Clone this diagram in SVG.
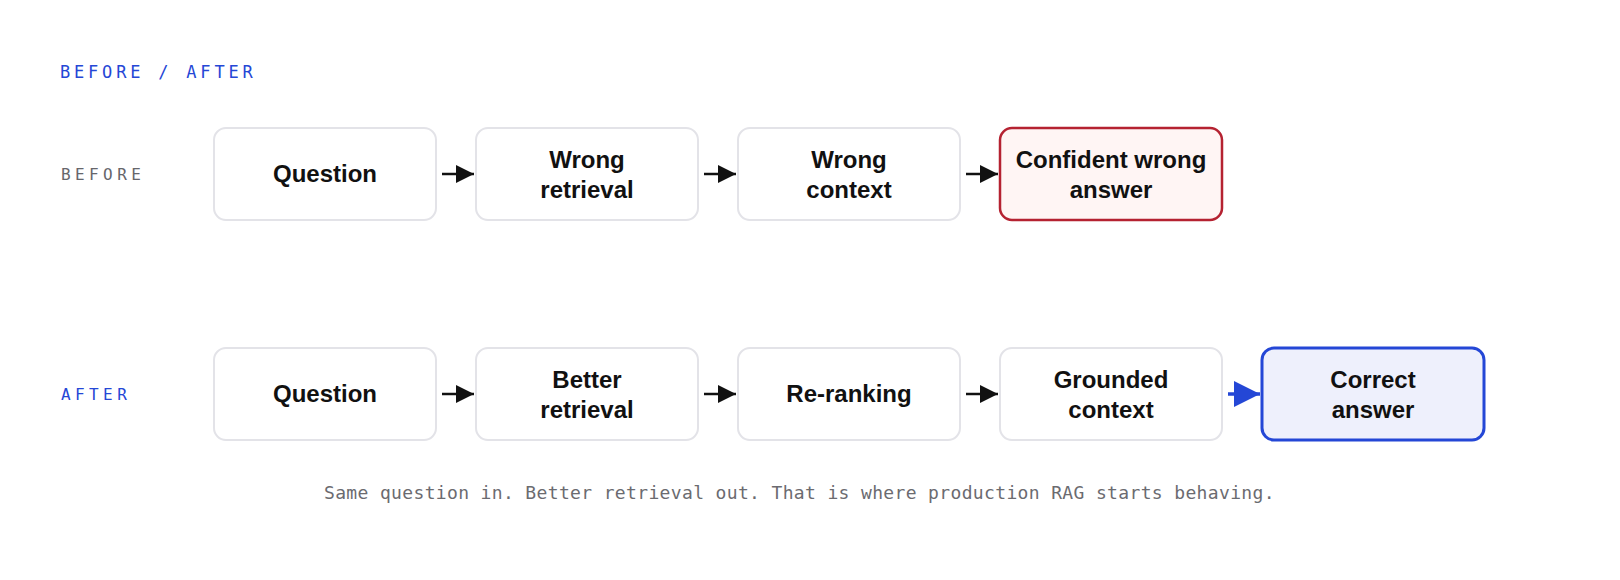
<svg xmlns="http://www.w3.org/2000/svg" width="1620" height="580" viewBox="0 0 1620 580">
<style>
.bg{fill:#ffffff}
.node{fill:#ffffff;stroke:#e3e3e8;stroke-width:2}
.bad{fill:#fff5f4;stroke:#b52231;stroke-width:2.5}
.good{fill:#eef0fc;stroke:#2447d6;stroke-width:3}
.t{font-family:"Liberation Sans",Arial,sans-serif;font-weight:bold;font-size:24px;fill:#111111;text-anchor:middle}
.hdr{font-family:"DejaVu Sans Mono",monospace;font-size:17px;letter-spacing:3.8px;fill:#2547d6}
.lbl{font-family:"DejaVu Sans Mono",monospace;font-size:16px;letter-spacing:4.4px}
.cap{font-family:"DejaVu Sans Mono",monospace;font-size:18px;letter-spacing:0.35px;fill:#6b6b70}
.arr{stroke:#111111;stroke-width:2.5;fill:none}
.arrb{stroke:#2447d6;stroke-width:3.5;fill:none}
</style>
<defs>
<marker id="ah" viewBox="0 0 18 18" refX="18" refY="9" markerWidth="18" markerHeight="18" markerUnits="userSpaceOnUse" orient="auto"><path d="M0,0 L18,9 L0,18 z" fill="#111111"/></marker>
<marker id="ahb" viewBox="0 0 26 26" refX="26" refY="13" markerWidth="26" markerHeight="26" markerUnits="userSpaceOnUse" orient="auto"><path d="M0,0 L26,13 L0,26 z" fill="#2447d6"/></marker>
</defs>
<rect class="bg" x="0" y="0" width="1620" height="580"/>
<text class="hdr" x="60" y="78">BEFORE / AFTER</text>
<text class="lbl" x="61" y="180" fill="#66666b">BEFORE</text>
<text class="lbl" x="61" y="400" fill="#2547d6">AFTER</text>

<g id="b1"><rect class="node" x="214" y="128" width="222" height="92" rx="12"/><text class="t" x="325" y="182">Question</text></g>
<g id="b2"><rect class="node" x="476" y="128" width="222" height="92" rx="12"/><text class="t" x="587" y="168">Wrong</text><text class="t" x="587" y="198">retrieval</text></g>
<g id="b3"><rect class="node" x="738" y="128" width="222" height="92" rx="12"/><text class="t" x="849" y="168">Wrong</text><text class="t" x="849" y="198">context</text></g>
<g id="b4"><rect class="bad" x="1000" y="128" width="222" height="92" rx="12"/><text class="t" x="1111" y="168">Confident wrong</text><text class="t" x="1111" y="198">answer</text></g>

<g id="a1"><rect class="node" x="214" y="348" width="222" height="92" rx="12"/><text class="t" x="325" y="402">Question</text></g>
<g id="a2"><rect class="node" x="476" y="348" width="222" height="92" rx="12"/><text class="t" x="587" y="388">Better</text><text class="t" x="587" y="418">retrieval</text></g>
<g id="a3"><rect class="node" x="738" y="348" width="222" height="92" rx="12"/><text class="t" x="849" y="402">Re-ranking</text></g>
<g id="a4"><rect class="node" x="1000" y="348" width="222" height="92" rx="12"/><text class="t" x="1111" y="388">Grounded</text><text class="t" x="1111" y="418">context</text></g>
<g id="a5"><rect class="good" x="1262" y="348" width="222" height="92" rx="12"/><text class="t" x="1373" y="388">Correct</text><text class="t" x="1373" y="418">answer</text></g>

<g id="connectors">
<line class="arr" x1="442" y1="174" x2="474" y2="174" marker-end="url(#ah)"/>
<line class="arr" x1="704" y1="174" x2="736" y2="174" marker-end="url(#ah)"/>
<line class="arr" x1="966" y1="174" x2="998" y2="174" marker-end="url(#ah)"/>
<line class="arr" x1="442" y1="394" x2="474" y2="394" marker-end="url(#ah)"/>
<line class="arr" x1="704" y1="394" x2="736" y2="394" marker-end="url(#ah)"/>
<line class="arr" x1="966" y1="394" x2="998" y2="394" marker-end="url(#ah)"/>
<line class="arrb" x1="1228" y1="394" x2="1260" y2="394" marker-end="url(#ahb)"/>
</g>

<text class="cap" x="324" y="499">Same question in. Better retrieval out. That is where production RAG starts behaving.</text>
</svg>
